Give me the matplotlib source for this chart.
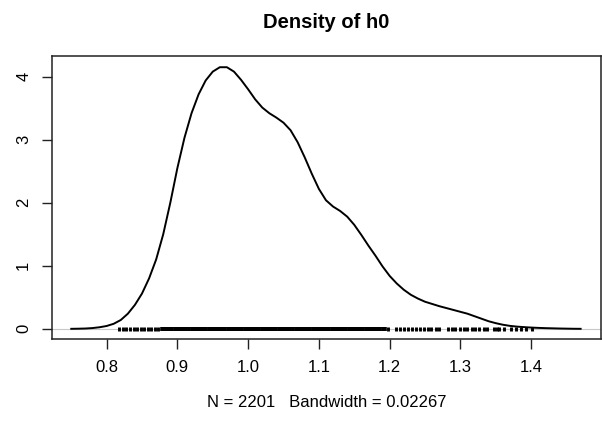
import numpy as np
import matplotlib
matplotlib.use('agg')
import matplotlib.pyplot as plt

plt.rcParams['font.family'] = ['Liberation Sans', 'DejaVu Sans']

# density curve
dens_x = [0.75, 0.76, 0.77, 0.78, 0.79, 0.80, 0.81, 0.82, 0.83, 0.84,
          0.85, 0.86, 0.87, 0.88, 0.89, 0.90, 0.91, 0.92, 0.93, 0.94,
          0.95, 0.96, 0.97, 0.98, 0.99, 1.00, 1.01, 1.02, 1.03, 1.04,
          1.05, 1.06, 1.07, 1.08, 1.09, 1.10, 1.11, 1.12, 1.13, 1.14,
          1.15, 1.16, 1.17, 1.18, 1.19, 1.20, 1.21, 1.22, 1.23, 1.24,
          1.25, 1.26, 1.27, 1.28, 1.29, 1.30, 1.31, 1.32, 1.33, 1.34,
          1.35, 1.36, 1.37, 1.38, 1.39, 1.40, 1.41, 1.42, 1.43, 1.44,
          1.45, 1.46, 1.47]
dens_y = [0.0, 0.002, 0.005, 0.012, 0.025, 0.045, 0.08, 0.14, 0.24, 0.38,
          0.56, 0.80, 1.10, 1.50, 2.00, 2.55, 3.03, 3.42, 3.72, 3.94,
          4.08, 4.15, 4.15, 4.08, 3.95, 3.80, 3.64, 3.51, 3.42, 3.35,
          3.27, 3.15, 2.96, 2.72, 2.46, 2.22, 2.04, 1.94, 1.87, 1.78,
          1.65, 1.49, 1.32, 1.16, 0.99, 0.84, 0.72, 0.62, 0.54, 0.48,
          0.43, 0.395, 0.36, 0.33, 0.30, 0.27, 0.24, 0.20, 0.16, 0.12,
          0.09, 0.065, 0.047, 0.035, 0.027, 0.02, 0.015, 0.011, 0.008, 0.005,
          0.003, 0.001, 0.0]

# rug (observed h0 values, as far as they can be told apart)
rug_left = [0.818, 0.823, 0.828, 0.833, 0.838, 0.843, 0.848, 0.853, 0.858, 0.863,
            0.868, 0.873]
rug_dense = [0.878, 0.881, 0.884, 0.887, 0.890, 0.893, 0.896, 0.899, 0.902, 0.905,
             0.908, 0.911, 0.914, 0.917, 0.920, 0.923, 0.926, 0.929, 0.932, 0.935,
             0.938, 0.941, 0.944, 0.947, 0.950, 0.953, 0.956, 0.959, 0.962, 0.965,
             0.968, 0.971, 0.974, 0.977, 0.980, 0.983, 0.986, 0.989, 0.992, 0.995,
             0.998, 1.001, 1.004, 1.007, 1.010, 1.013, 1.016, 1.019, 1.022, 1.025,
             1.028, 1.031, 1.034, 1.037, 1.040, 1.043, 1.046, 1.049, 1.052, 1.055,
             1.058, 1.061, 1.064, 1.067, 1.070, 1.073, 1.076, 1.079, 1.082, 1.085,
             1.088, 1.091, 1.094, 1.097, 1.100, 1.103, 1.106, 1.109, 1.112, 1.115,
             1.118, 1.121, 1.124, 1.127, 1.130, 1.133, 1.136, 1.139, 1.142, 1.145,
             1.148, 1.151, 1.154, 1.157, 1.160, 1.163, 1.166, 1.169, 1.172, 1.175,
             1.178, 1.181, 1.184, 1.187, 1.190, 1.193]
rug_right = [1.198, 1.209, 1.215, 1.220, 1.226, 1.231, 1.237, 1.243, 1.248, 1.254,
             1.259, 1.265, 1.270, 1.282, 1.288, 1.293, 1.299, 1.305, 1.310, 1.316,
             1.321, 1.327, 1.333, 1.338, 1.347, 1.352, 1.355, 1.362, 1.372, 1.379,
             1.386, 1.393, 1.401]

x_ticks = [0.8, 0.9, 1.0, 1.1, 1.2, 1.3, 1.4]
y_ticks = [0, 1, 2, 3, 4]

fig = plt.figure(figsize=(6.02, 4.22), dpi=100)
ax = fig.add_axes([0.0864, 0.196, 0.9116, 0.671])

ax.axhline(0, color='#c8c8c8', linewidth=0.8, zorder=1)
ax.plot(dens_x, dens_y, color='black', linewidth=1.4, zorder=3)
ax.vlines(rug_left + rug_right, -0.03, 0.035, color='black', linewidth=2.1, zorder=2)
ax.vlines(rug_dense, -0.03, 0.035, color='black', linewidth=2.6, zorder=2)

ax.set_xlim(0.7228, 1.4985)
ax.set_ylim(-0.166, 4.326)
ax.set_xticks(x_ticks)
ax.set_xticklabels(['%.1f' % v for v in x_ticks])
ax.set_yticks(y_ticks)
ax.set_yticklabels([str(v) for v in y_ticks], rotation=90, va='center')
ax.tick_params(direction='out', length=7, width=1, labelsize=12, pad=8, color='#222222')
for s in ax.spines.values():
    s.set_linewidth(1.1)
    s.set_color('#222222')

ax.set_title('Density of h0', fontsize=14.5, fontweight='bold', pad=20)
ax.set_xlabel('N = 2201   Bandwidth = 0.02267', fontsize=12, labelpad=14)

fig.savefig('out.png', dpi=100)
